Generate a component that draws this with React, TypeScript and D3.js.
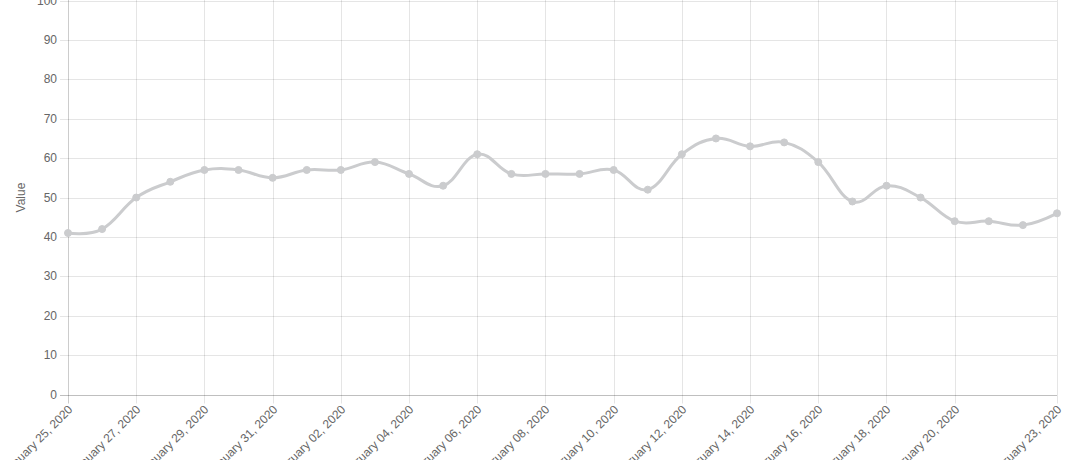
import React from "react";
import * as d3 from "d3";

const dates: string[] = [
  "2020-01-25","2020-01-26","2020-01-27","2020-01-28","2020-01-29","2020-01-30","2020-01-31",
  "2020-02-01","2020-02-02","2020-02-03","2020-02-04","2020-02-05","2020-02-06","2020-02-07",
  "2020-02-08","2020-02-09","2020-02-10","2020-02-11","2020-02-12","2020-02-13","2020-02-14",
  "2020-02-15","2020-02-16","2020-02-17","2020-02-18","2020-02-19","2020-02-20","2020-02-21",
  "2020-02-22","2020-02-23",
];
const values: number[] = [
  41, 42, 50, 54, 57, 57, 55, 57, 57, 59, 56, 53, 61, 56, 56, 56, 57, 52, 61, 65,
  63, 64, 59, 49, 53, 50, 44, 44, 43, 46,
];
const xTickDates: string[] = [
  "2020-01-25","2020-01-27","2020-01-29","2020-01-31","2020-02-02","2020-02-04","2020-02-06",
  "2020-02-08","2020-02-10","2020-02-12","2020-02-14","2020-02-16","2020-02-18","2020-02-20",
  "2020-02-23",
];
const yTicks: number[] = [0, 10, 20, 30, 40, 50, 60, 70, 80, 90, 100];
const yTitle = "Value";

const W = 1079, H = 460;
const left = 68, right = 1057, top = 0.6, bottom = 394.5;
const FONT = "'Helvetica Neue', Helvetica, Arial, 'Liberation Sans', sans-serif";
const parse = d3.utcParse("%Y-%m-%d");
const fmt = d3.utcFormat("%B %d, %Y");
const LINE = "rgb(203,204,206)";

export default function App() {
  const x = d3.scaleUtc()
    .domain([parse(dates[0])!, parse(dates[dates.length - 1])!])
    .range([left, right]);
  const y = d3.scaleLinear().domain([0, 100]).range([bottom, top]);
  const pts = dates.map((d, i) => ({ d: parse(d)!, v: values[i] }));
  const line = d3.line<{ d: Date; v: number }>()
    .x((p) => x(p.d))
    .y((p) => y(p.v))
    .curve(d3.curveCardinal.tension(-0.2));

  return (
    <svg width={W} height={H} style={{ position: "absolute", left: 0, top: 0, background: "#fff" }}
      fontFamily={FONT}>
      {yTicks.map((t) => (
        <g key={"y" + t}>
          <line x1={left - 8} x2={right} y1={Math.round(y(t)) + 0.5} y2={Math.round(y(t)) + 0.5}
            stroke={t === 0 ? "rgba(0,0,0,0.25)" : "rgba(0,0,0,0.1)"} strokeWidth={1} />
          <text x={left - 11} y={y(t)} textAnchor="end" dominantBaseline="central"
            fontSize={12} fill="#666">{t}</text>
        </g>
      ))}
      {xTickDates.map((s, i) => {
        const xx = Math.round(x(parse(s)!)) + 0.5;
        return (
          <g key={"x" + s}>
            <line x1={xx} x2={xx} y1={0} y2={bottom + 9}
              stroke={i === 0 ? "rgba(0,0,0,0.2)" : "rgba(0,0,0,0.1)"} strokeWidth={1} />
            <text transform={`translate(${xx + 2},${bottom + 13}) rotate(-45)`} textAnchor="end"
              dominantBaseline="central" fontSize={12} fill="#666">{fmt(parse(s)!)}</text>
          </g>
        );
      })}
      <text transform={`translate(25,${(top + bottom) / 2}) rotate(-90)`} textAnchor="middle"
        fontSize={12} fill="#666">{yTitle}</text>
      <path d={line(pts) || ""} fill="none" stroke={LINE} strokeWidth={3} />
      {pts.map((p, i) => (
        <circle key={i} cx={x(p.d)} cy={y(p.v)} r={3.5} fill={LINE} stroke={LINE} strokeWidth={1} />
      ))}
    </svg>
  );
}
